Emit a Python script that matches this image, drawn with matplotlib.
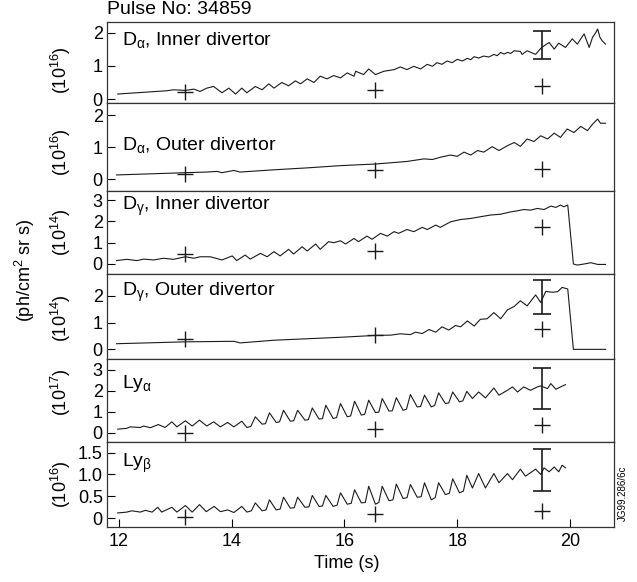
import matplotlib
matplotlib.use("Agg")
import matplotlib.pyplot as plt
import numpy as np

plt.rcParams['font.family'] = ['Liberation Sans', 'DejaVu Sans']
plt.rcParams['mathtext.fontset'] = 'custom'
plt.rcParams['mathtext.rm'] = 'Liberation Sans'
plt.rcParams['mathtext.it'] = 'Liberation Sans'

# ---------------- data ----------------
title = "Pulse No: 34859"
panel_labels = [r"D$_{\alpha}$, Inner divertor", r"D$_{\alpha}$, Outer divertor",
                r"D$_{\gamma}$, Inner divertor", r"D$_{\gamma}$, Outer divertor",
                r"Ly$_{\alpha}$", r"Ly$_{\beta}$"]
unit_labels = [r"(10$^{16}$)", r"(10$^{16}$)", r"(10$^{14}$)", r"(10$^{14}$)",
               r"(10$^{17}$)", r"(10$^{16}$)"]

t_da_in = [11.98, 12.14, 12.32, 12.50, 12.67, 12.85, 12.97, 13.18, 13.33, 13.44, 13.56, 13.68,
           13.83, 13.95, 14.07, 14.18, 14.27, 14.42, 14.54, 14.66, 14.75, 14.89, 15.01, 15.13,
           15.22, 15.34, 15.46, 15.57, 15.69, 15.81, 15.93, 16.05, 16.17, 16.20, 16.34, 16.43,
           16.55, 16.70, 16.88, 16.99, 17.11, 17.23, 17.35, 17.47, 17.56, 17.64, 17.73, 17.82,
           17.91, 18.00, 18.09, 18.18, 18.24, 18.30, 18.38, 18.47, 18.56, 18.65, 18.71, 18.77,
           18.83, 18.89, 18.95, 19.01, 19.12, 19.15, 19.24, 19.39, 19.48, 19.54, 19.63, 19.72,
           19.80, 19.92, 20.04, 20.13, 20.19, 20.25, 20.34, 20.40, 20.46, 20.49, 20.53, 20.57, 20.63]
v_da_in = [0.15, 0.17, 0.19, 0.21, 0.23, 0.25, 0.28, 0.26, 0.30, 0.23, 0.33, 0.38,
           0.19, 0.33, 0.15, 0.33, 0.19, 0.38, 0.28, 0.46, 0.33, 0.50, 0.40, 0.55,
           0.46, 0.61, 0.50, 0.69, 0.61, 0.71, 0.64, 0.79, 0.69, 0.84, 0.74, 0.91,
           0.74, 0.84, 0.89, 0.97, 0.89, 0.99, 0.91, 1.05, 0.99, 1.10, 1.05, 1.15,
           1.10, 1.20, 1.15, 1.23, 1.19, 1.28, 1.24, 1.30, 1.27, 1.35, 1.31, 1.41,
           1.36, 1.41, 1.38, 1.46, 1.44, 1.35, 1.46, 1.35, 1.53, 1.61, 1.71, 1.51,
           1.69, 1.56, 1.82, 1.66, 1.82, 1.97, 1.56, 1.87, 2.02, 2.12, 1.87, 1.76, 1.66]

t_da_out = [11.96, 13.18, 13.56, 13.74, 13.83, 14.04, 14.15, 14.75, 15.34, 15.93, 16.55, 17.11,
            17.26, 17.41, 17.56, 17.70, 17.88, 18.00, 18.12, 18.24, 18.36, 18.47, 18.62, 18.74,
            18.89, 19.01, 19.12, 19.24, 19.36, 19.48, 19.60, 19.72, 19.83, 19.95, 20.07, 20.19,
            20.31, 20.40, 20.49, 20.54, 20.63]
v_da_out = [0.14, 0.21, 0.23, 0.25, 0.21, 0.28, 0.23, 0.30, 0.36, 0.43, 0.48, 0.56,
            0.60, 0.64, 0.62, 0.69, 0.76, 0.72, 0.85, 0.76, 0.90, 0.85, 1.02, 0.90,
            1.05, 1.15, 1.03, 1.26, 1.18, 1.36, 1.26, 1.44, 1.31, 1.57, 1.46, 1.65,
            1.52, 1.72, 1.88, 1.75, 1.75]

t_dg_in = [11.96, 12.14, 12.32, 12.44, 12.62, 12.79, 12.97, 13.18, 13.33, 13.44, 13.62, 13.83,
           14.01, 14.09, 14.24, 14.33, 14.51, 14.63, 14.75, 14.86, 15.01, 15.10, 15.25, 15.34,
           15.49, 15.57, 15.72, 15.81, 15.93, 16.02, 16.17, 16.25, 16.40, 16.49, 16.64, 16.76,
           16.88, 16.96, 17.11, 17.23, 17.38, 17.47, 17.62, 17.70, 17.88, 18.06, 18.24, 18.41,
           18.59, 18.77, 18.95, 19.07, 19.18, 19.30, 19.42, 19.54, 19.66, 19.75, 19.83, 19.89,
           19.96, 20.06, 20.13, 20.25, 20.37, 20.49, 20.63]
v_dg_in = [0.16, 0.22, 0.16, 0.23, 0.19, 0.27, 0.22, 0.34, 0.27, 0.34, 0.34, 0.19,
           0.38, 0.16, 0.42, 0.23, 0.50, 0.34, 0.58, 0.38, 0.69, 0.47, 0.81, 0.61,
           0.94, 0.69, 1.05, 1.00, 1.09, 0.94, 1.20, 1.05, 1.31, 1.16, 1.44, 1.31,
           1.52, 1.44, 1.62, 1.52, 1.72, 1.62, 1.83, 1.72, 1.98, 2.09, 2.14, 2.22,
           2.30, 2.34, 2.45, 2.50, 2.56, 2.53, 2.61, 2.56, 2.72, 2.66, 2.77, 2.69,
           2.77, 0.00, -0.05, 0.00, 0.06, -0.02, -0.02]

t_dg_out = [11.96, 13.18, 14.04, 14.15, 14.75, 15.93, 16.55, 16.82, 16.99, 17.17, 17.26, 17.38,
            17.50, 17.62, 17.73, 17.85, 17.97, 18.06, 18.18, 18.30, 18.41, 18.53, 18.65, 18.77,
            18.89, 19.01, 19.12, 19.24, 19.39, 19.48, 19.57, 19.69, 19.78, 19.86, 19.96, 20.06,
            20.63]
v_dg_out = [0.21, 0.28, 0.30, 0.24, 0.34, 0.45, 0.52, 0.53, 0.58, 0.55, 0.64, 0.59,
            0.74, 0.64, 0.84, 0.72, 0.89, 0.84, 1.06, 0.87, 1.12, 1.14, 1.37, 1.14,
            1.47, 1.60, 1.81, 1.62, 2.03, 1.75, 2.16, 2.13, 2.15, 2.31, 2.25, 0.00,
            0.00]

t_lya = [11.98, 12.14, 12.20, 12.38, 12.44, 12.56, 12.70, 12.82, 12.94, 13.03, 13.18, 13.30,
         13.43, 13.56, 13.68, 13.80, 13.93, 14.04, 14.18, 14.27, 14.34, 14.42, 14.54, 14.60,
         14.67, 14.79, 14.85, 14.92, 15.04, 15.10, 15.17, 15.30, 15.36, 15.43, 15.55, 15.61,
         15.67, 15.80, 15.86, 15.93, 16.05, 16.11, 16.18, 16.30, 16.36, 16.43, 16.55, 16.61,
         16.67, 16.79, 16.85, 16.92, 17.04, 17.10, 17.17, 17.29, 17.35, 17.42, 17.54, 17.60,
         17.67, 17.79, 17.85, 17.92, 18.04, 18.10, 18.17, 18.27, 18.38, 18.50, 18.65, 18.74,
         18.89, 18.98, 19.07, 19.18, 19.30, 19.42, 19.48, 19.60, 19.66, 19.75, 19.83, 19.92]
v_lya = [0.17, 0.21, 0.28, 0.25, 0.32, 0.24, 0.39, 0.25, 0.52, 0.28, 0.57, 0.32,
         0.60, 0.32, 0.52, 0.28, 0.49, 0.28, 0.55, 0.25, 0.30, 0.76, 0.41, 0.43,
         0.95, 0.49, 0.52, 1.07, 0.55, 0.57, 1.07, 0.60, 0.62, 1.18, 0.65, 0.67,
         1.31, 0.68, 0.72, 1.39, 0.76, 0.80, 1.50, 0.84, 0.88, 1.55, 0.96, 0.98,
         1.63, 1.03, 1.05, 1.67, 1.07, 1.12, 1.82, 1.23, 1.25, 1.79, 1.23, 1.30,
         1.90, 1.39, 1.42, 1.94, 1.47, 1.52, 1.97, 1.63, 1.94, 1.66, 2.13, 1.79,
         2.02, 2.18, 1.94, 2.18, 2.02, 2.18, 2.23, 2.10, 2.34, 2.07, 2.18, 2.29]

t_lyb = [11.98, 12.14, 12.23, 12.38, 12.47, 12.59, 12.69, 12.76, 12.94, 13.03, 13.18, 13.30,
         13.43, 13.55, 13.69, 13.80, 13.93, 14.04, 14.18, 14.27, 14.35, 14.42, 14.54, 14.61,
         14.67, 14.79, 14.86, 14.92, 15.04, 15.11, 15.17, 15.30, 15.37, 15.43, 15.55, 15.61,
         15.67, 15.80, 15.87, 15.93, 16.05, 16.12, 16.18, 16.30, 16.37, 16.43, 16.55, 16.61,
         16.67, 16.79, 16.86, 16.92, 17.04, 17.11, 17.17, 17.29, 17.36, 17.42, 17.54, 17.61,
         17.67, 17.79, 17.86, 17.92, 18.04, 18.11, 18.17, 18.27, 18.38, 18.50, 18.65, 18.74,
         18.89, 18.98, 19.12, 19.21, 19.30, 19.39, 19.48, 19.54, 19.63, 19.72, 19.80, 19.86,
         19.92]
v_lyb = [0.12, 0.14, 0.17, 0.14, 0.18, 0.14, 0.25, 0.14, 0.25, 0.14, 0.29, 0.14,
         0.31, 0.15, 0.27, 0.15, 0.19, 0.13, 0.27, 0.14, 0.17, 0.35, 0.17, 0.19,
         0.42, 0.19, 0.21, 0.48, 0.23, 0.24, 0.48, 0.25, 0.26, 0.52, 0.27, 0.28,
         0.52, 0.27, 0.30, 0.58, 0.32, 0.34, 0.65, 0.35, 0.36, 0.73, 0.32, 0.36,
         0.73, 0.40, 0.42, 0.78, 0.45, 0.47, 0.77, 0.48, 0.49, 0.81, 0.42, 0.47,
         0.81, 0.54, 0.57, 0.90, 0.58, 0.62, 0.98, 0.69, 1.02, 0.69, 1.02, 0.81,
         1.02, 0.88, 1.12, 0.96, 1.04, 1.12, 1.00, 1.15, 1.06, 1.17, 1.06, 1.21,
         1.15]

# modelled points (+ markers)
t_plus = [13.18, 16.55, 19.51]
plus_vals = [[0.22, 0.26, 0.38],
             [0.18, 0.28, 0.33],
             [0.47, 0.61, 1.75],
             [0.40, 0.53, 0.77],
             [0.00, 0.16, 0.36],
             [0.02, 0.09, 0.17]]

# error bars at t = 19.5 (None where absent)
t_err = 19.51
err_lo = [1.20, None, None, 1.31, 1.12, 0.62]
err_hi = [2.07, None, None, 2.60, 3.10, 1.58]

ylims = [(-0.12, 2.33), (-0.36, 2.38), (-0.47, 3.43), (-0.36, 2.81), (-0.44, 3.51), (-0.20, 1.74)]
yticks = [[0, 1, 2], [0, 1, 2], [0, 1, 2, 3], [0, 1, 2], [0, 1, 2, 3], [0, 0.5, 1.0, 1.5]]
ytick_labels = [["0", "1", "2"], ["0", "1", "2"], ["0", "1", "2", "3"], ["0", "1", "2"],
                ["0", "1", "2", "3"], ["0", "0.5", "1.0", "1.5"]]
xticks = [12, 14, 16, 18, 20]

series_t = [t_da_in, t_da_out, t_dg_in, t_dg_out, t_lya, t_lyb]
series_v = [v_da_in, v_da_out, v_dg_in, v_dg_out, v_lya, v_lyb]

# ---------------- figure ----------------
W, H = 637, 582
fig = plt.figure(figsize=(W / 100, H / 100), dpi=100)
gs = fig.add_gridspec(6, 1, left=107 / W, right=614 / W, top=1 - 22 / H, bottom=1 - 527 / H,
                      hspace=0, height_ratios=[81, 88, 83, 85, 83, 85])
lab_y = [0.78, 0.52, 0.81, 0.78, 0.71, 0.75]
unit_y = [70, 152, 232, 318, 392, 484]
col = '#1a1a1a'
axes = []
for i in range(6):
    ax = fig.add_subplot(gs[i])
    axes.append(ax)
    ax.plot(series_t[i], series_v[i], color=col, lw=0.8)
    ax.plot(t_plus, plus_vals[i], ls='none', marker='+', ms=12, mew=1.0, color=col)
    if err_lo[i] is not None:
        mid = (err_lo[i] + err_hi[i]) / 2
        half = (err_hi[i] - err_lo[i]) / 2
        ax.errorbar([t_err], [mid], yerr=[[half], [half]], fmt='none', ecolor=col,
                    elinewidth=1.2, capsize=6.5, capthick=1.2)
    ax.set_xlim(11.79, 20.78)
    ax.set_ylim(*ylims[i])
    ax.set_yticks(yticks[i])
    ax.set_yticklabels(ytick_labels[i])
    ax.tick_params(axis='y', direction='in', length=6, width=0.8, labelsize=13, pad=3)
    ax.set_xticks(xticks)
    if i < 5:
        ax.tick_params(axis='x', bottom=False, labelbottom=False)
    else:
        ax.tick_params(axis='x', direction='in', length=6, width=0.8, labelsize=13, pad=4)
    for s in ax.spines.values():
        s.set_linewidth(0.9)
        s.set_color('#333333')
    ax.text(0.03, lab_y[i], panel_labels[i], transform=ax.transAxes, ha='left', va='center',
            fontsize=14)
    fig.text(61 / W, 1 - unit_y[i] / H, unit_labels[i], rotation=90, ha='center', va='center',
             fontsize=13)

fig.text(107 / W, 1 - 10 / H, title, ha='left', va='center', fontsize=14)
fig.text(25 / W, 1 - 270 / H, r"(ph/cm$^{2}$ sr s)", rotation=90, ha='center', va='center',
         fontsize=13)
fig.text(347 / W, 1 - 564 / H, "Time (s)", ha='center', va='center', fontsize=13)
fig.text(623 / W, 1 - 493 / H, "JG99.286/6c", rotation=90, ha='center', va='center',
         fontsize=7)

fig.savefig("out.png", dpi=100)
